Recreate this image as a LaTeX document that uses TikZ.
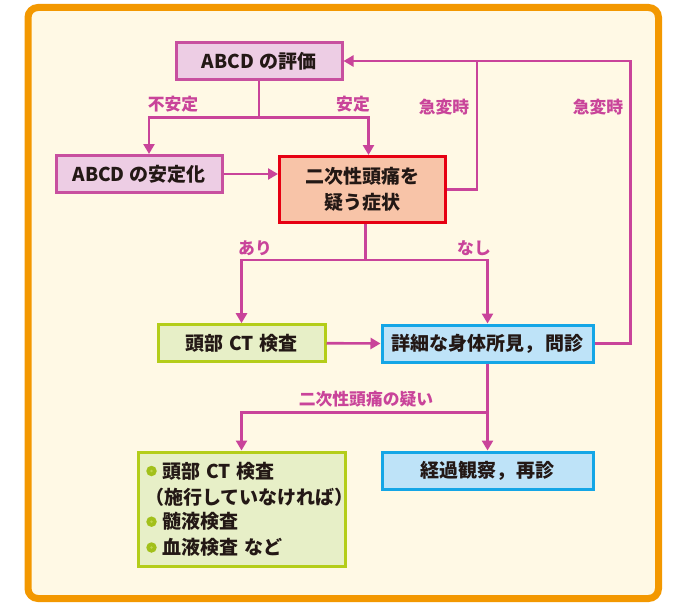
\documentclass[tikz,border=0pt]{standalone}
\usepackage{fontspec}
\setmainfont{Noto Sans CJK JP}
\usetikzlibrary{arrows.meta,calc}
\definecolor{frameor}{HTML}{F39800}
\definecolor{cream}{HTML}{FFF9E5}
\definecolor{mag}{HTML}{C9449A}
\definecolor{pinkfill}{HTML}{EDCDE4}
\definecolor{pinkbd}{HTML}{C8509F}
\definecolor{salfill}{HTML}{F8C4A8}
\definecolor{redbd}{HTML}{E60012}
\definecolor{grfill}{HTML}{E7EFC7}
\definecolor{grbd}{HTML}{B4CD1A}
\definecolor{blfill}{HTML}{BEE3F8}
\definecolor{blbd}{HTML}{14A6E6}
\definecolor{txt}{HTML}{231815}
\definecolor{bul}{HTML}{A2C01A}
\definecolor{bulin}{HTML}{BFD54A}
\begin{document}
\begin{tikzpicture}[x=1pt,y=-1pt,
  box/.style={draw, line width=3pt, inner sep=0pt, text=txt,
    font=\fontsize{19}{26}\selectfont\bfseries, align=center},
  pinkbox/.style={box, fill=pinkfill, draw=pinkbd, minimum width=166pt, minimum height=37pt},
  redbox/.style={box, fill=salfill, draw=redbd, minimum width=166pt, minimum height=66pt},
  greenbox/.style={box, fill=grfill, draw=grbd},
  bluebox/.style={box, fill=blfill, draw=blbd, minimum width=211pt, minimum height=37pt},
  conn/.style={draw=mag, line width=2.6pt},
  arr/.style={conn, -{Triangle[length=10pt,width=11pt]}},
  lbl/.style={text=mag, font=\fontsize{16.8}{18}\selectfont\bfseries, inner sep=0pt},
  itemtxt/.style={anchor=west, inner sep=0pt, text=txt, font=\fontsize{19}{22}\selectfont\bfseries},
  bullet/.style={circle, fill=bul, minimum size=10.5pt, inner sep=0pt},
]
\useasboundingbox (0,0) rectangle (674,602);
\fill[white] (0,0) rectangle (674,602);
\draw[frameor, fill=cream, line width=7pt, rounded corners=10pt] (28,7.5) rectangle (658.5,598.5);

% nodes
\node[pinkbox] (eval) at (259,61) {ABCD\hspace{0.25em}の評価};
\node[pinkbox] (stab) at (139,174) {ABCD\hspace{0.25em}の安定化};
\node[redbox] (sym) at (362.5,189.5) {二次性頭痛を\\疑う症状};
\node[greenbox, minimum width=167pt, minimum height=37pt] (ct) at (241.5,343.2) {頭部\hspace{0.3em}CT\hspace{0.3em}検査};
\node[bluebox] (det) at (487.5,343.5) {詳細な身体所見，\hspace{0.1em}問診};
\node[bluebox] (obs) at (487.5,470.5) {経過観察，\hspace{0.1em}再診};
\node[greenbox, minimum width=207pt, minimum height=114pt] (tests) at (241.5,509) {};

% test items
\node[bullet] (b1) at (151.5,471) {};
\node[itemtxt] (t1) at (162.5,471) {頭部\hspace{0.3em}CT\hspace{0.3em}検査};
\node[itemtxt] (t2) at (145,497) {（施行していなければ）};
\node[bullet] (b3) at (151.5,521.7) {};
\node[itemtxt] (t3) at (162.5,521.7) {髄液検査};
\node[bullet] (b4) at (151.5,547.5) {};
\node[itemtxt] (t4) at (162.5,547.5) {血液検査\hspace{0.3em}など};
\foreach \b in {b1,b3,b4} \fill[bulin] (\b) circle (1.4pt);

% coordinates
\coordinate (s1) at (259,117.3);
\coordinate (s2) at (365.5,260);
\coordinate (s3) at (487.5,412.7);
\coordinate (k1) at (477,0);
\coordinate (k2) at (630.7,0);

% connectors
\draw[arr] (eval.south) -- (s1) -| ($(stab.north)+(10,0)$);
\draw[arr] (s1) -| ($(sym.north)+(6,0)$);
\draw[arr] (stab.east) -- (stab.east -| sym.west);
\draw[conn] (det.east) -| (k2 |- eval.east) -- (k1 |- eval.east);
\draw[arr] (sym.east) -| (k1 |- eval.east) -- (eval.east);
\draw[arr] ($(sym.south)+(3,0)$) -- (s2) -| (ct.north);
\draw[arr] (s2) -| (det.north);
\draw[arr] (ct.east) -- (det.west);
\draw[arr] (det.south) -- (s3) -| (tests.north);
\draw[arr] (s3) -- (obs.north);

% labels
\node[lbl] (l1) at (173,104) {不安定};
\node[lbl] (l2) at (353,104) {安定};
\node[lbl] (l3) at (444,107) {急変時};
\node[lbl] (l4) at (598,107) {急変時};
\node[lbl] (l5) at (255,248) {あり};
\node[lbl] (l6) at (474,248) {なし};
\node[lbl] (l7) at (366,399) {二次性頭痛の疑い};
\end{tikzpicture}
\end{document}
